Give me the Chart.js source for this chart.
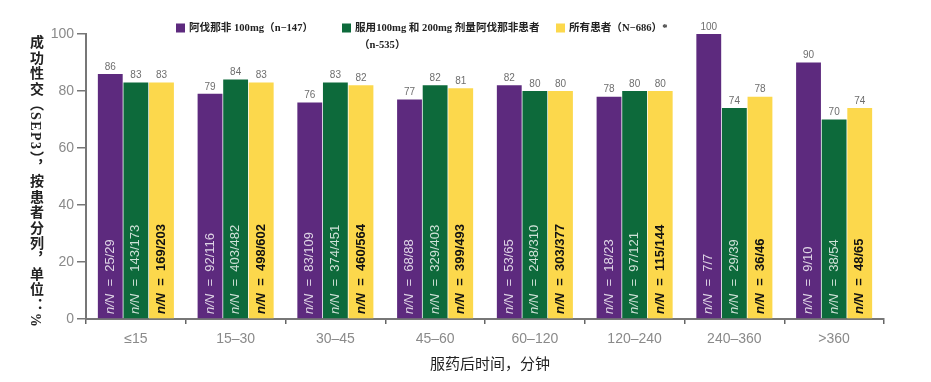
<!DOCTYPE html>
<html>
<head>
<meta charset="utf-8">
<script src="https://cdn.jsdelivr.net/npm/chart.js@4.4.1/dist/chart.umd.min.js"></script>
<style>
  html, body { margin: 0; padding: 0; background: #fff; }
  #wrap { position: relative; width: 931px; height: 382px; }
  #ytitle {
    position: absolute; left: 27px; top: 35px; height: 300px;
    writing-mode: vertical-rl;
    font-family: "Liberation Serif", "Noto Sans CJK SC", serif;
    font-weight: bold; font-size: 14px; color: #222; letter-spacing: 1.4px;
    white-space: nowrap; line-height: 16px;
  }
</style>
</head>
<body>
<div id="wrap">
  <canvas id="c" width="931" height="382"></canvas>
  <div id="ytitle">成功性交（SEP3），按患者分列，单位：%</div>
</div>
<script>
const categories = ['≤15', '15–30', '30–45', '45–60', '60–120', '120–240', '240–360', '>360'];
const seriesNames = [
  ['阿伐那非 100mg（n−147）'],
  ['服用100mg 和 200mg 剂量阿伐那非患者', '（n-535）'],
  ['所有患者（N−686）*']
];
const avanafil100 = [86, 79, 76, 77, 82, 78, 100, 90];
const doses100and200 = [83, 84, 83, 82, 80, 80, 74, 70];
const allPatients = [83, 83, 82, 81, 80, 80, 78, 74];
const nN100 = ['25/29', '92/116', '83/109', '68/88', '53/65', '18/23', '7/7', '9/10'];
const nNBoth = ['143/173', '403/482', '374/451', '329/403', '248/310', '97/121', '29/39', '38/54'];
const nNAll = ['169/203', '498/602', '460/564', '399/493', '303/377', '115/144', '36/46', '48/65'];
const yTicks = [0, 20, 40, 60, 80, 100];
const xTitle = '服药后时间，分钟';

const colors = ['#5d2a7e', '#0d6a3b', '#fcd84c'];
const inColors = ['rgba(255,255,255,0.8)', 'rgba(255,255,255,0.8)', '#111'];
const inBold = [false, false, true];
const fracs = [nN100, nNBoth, nNAll];

const labelPlugin = {
  id: 'labels',
  afterDatasetsDraw(chart) {
    const ctx = chart.ctx;
    const area = chart.chartArea;
    chart.data.datasets.forEach((ds, di) => {
      const meta = chart.getDatasetMeta(di);
      meta.data.forEach((bar, i) => {
        ctx.save();
        ctx.font = '10px "Liberation Sans", Arial, sans-serif';
        ctx.fillStyle = '#6e6e6e';
        ctx.textAlign = 'center';
        ctx.textBaseline = 'bottom';
        ctx.fillText(String(ds.data[i]), bar.x, bar.y - 2);
        ctx.restore();
        ctx.save();
        ctx.translate(bar.x, area.bottom - 5);
        ctx.rotate(-Math.PI / 2);
        ctx.textBaseline = 'middle';
        ctx.textAlign = 'left';
        ctx.fillStyle = inColors[di];
        const w = inBold[di] ? 'bold ' : '';
        ctx.font = 'italic ' + w + '13px "Liberation Sans", Arial, sans-serif';
        let x = 0;
        const p1 = 'n/N';
        ctx.fillText(p1, x, 0);
        x += ctx.measureText(p1).width;
        ctx.font = w + '13px "Liberation Sans", Arial, sans-serif';
        const p2 = '  =  ' + fracs[di][i];
        ctx.fillText(p2, x, 0);
        ctx.restore();
      });
    });
    // legend
    const legendPos = [[176, 28], [342, 28], [556, 28]];
    ctx.save();
    ctx.font = 'bold 10.6px "Liberation Serif", "Noto Sans CJK SC", serif';
    ctx.textBaseline = 'middle';
    ctx.textAlign = 'left';
    seriesNames.forEach((lines, k) => {
      const [lx, ly] = legendPos[k];
      ctx.fillStyle = colors[k];
      ctx.fillRect(lx, ly - 4.5, 9, 9);
      ctx.fillStyle = '#222';
      lines.forEach((t, j) => {
        ctx.fillText(t, lx + (j === 0 ? 13 : 17), ly + j * 17);
      });
    });
    ctx.restore();
    // x title
    ctx.save();
    ctx.font = '15px "Liberation Serif", "Noto Sans CJK SC", serif';
    ctx.fillStyle = '#222';
    ctx.textAlign = 'center';
    ctx.textBaseline = 'middle';
    ctx.fillText(xTitle, 490, 365);
    ctx.restore();
  }
};

new Chart(document.getElementById('c'), {
  type: 'bar',
  data: {
    labels: categories,
    datasets: [
      { label: seriesNames[0].join(''), data: avanafil100, backgroundColor: colors[0] },
      { label: seriesNames[1].join(''), data: doses100and200, backgroundColor: colors[1] },
      { label: seriesNames[2].join(''), data: allPatients, backgroundColor: colors[2] }
    ]
  },
  options: {
    responsive: false,
    animation: false,
    layout: { padding: { top: 34, right: 47, left: 0, bottom: 0 } },
    datasets: { bar: { categoryPercentage: 0.77, barPercentage: 0.97 } },
    plugins: { legend: { display: false }, tooltip: { enabled: false } },
    scales: {
      x: {
        grid: { offset: true, drawOnChartArea: false, tickLength: 5, color: '#666', lineWidth: 1.5 },
        border: { color: '#777', width: 2 },
        ticks: { color: '#8a8a8a', font: { size: 14, family: '"Liberation Sans", Arial, sans-serif' }, padding: 7 },
        afterFit(s) { s.height = 63; }
      },
      y: {
        min: 0, max: 100,
        afterBuildTicks(s) { s.ticks = yTicks.map(v => ({ value: v })); },
        grid: { drawOnChartArea: false, tickLength: 9, color: '#777', lineWidth: 1.5 },
        border: { color: '#777', width: 2 },
        ticks: { color: '#8a8a8a', font: { size: 14, family: '"Liberation Sans", Arial, sans-serif' }, padding: 3 },
        afterFit(s) { s.width = 86; }
      }
    }
  },
  plugins: [labelPlugin]
});
</script>
</body>
</html>
